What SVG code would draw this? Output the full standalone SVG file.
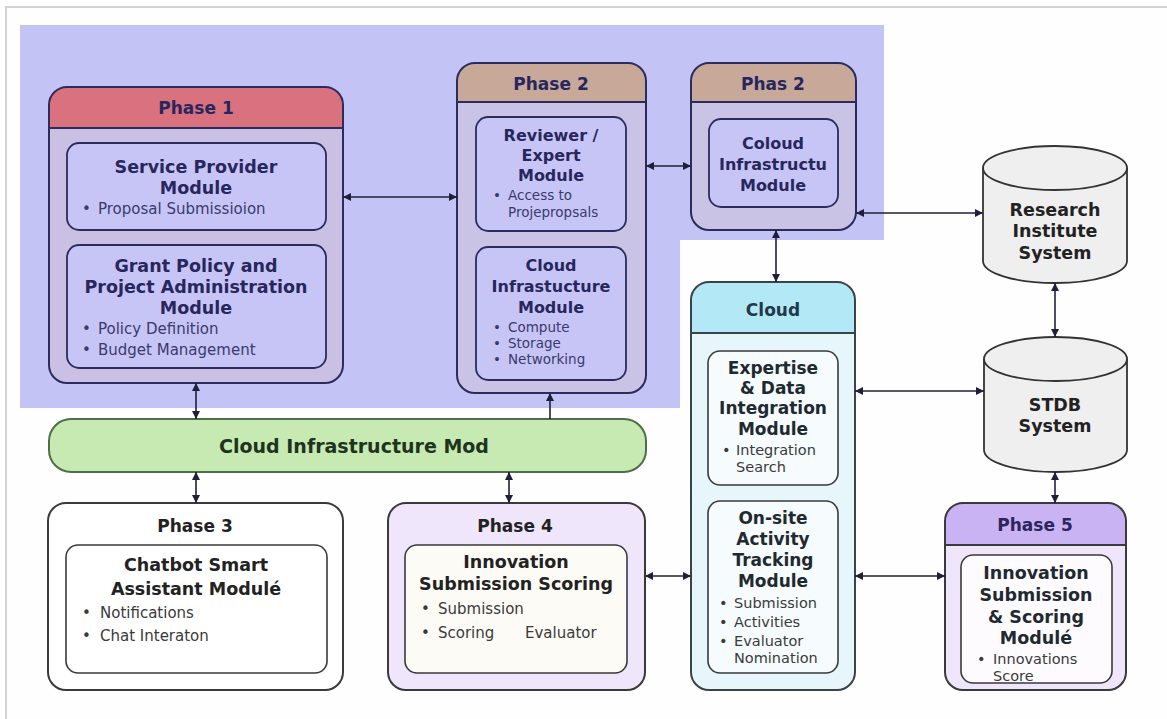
<svg xmlns="http://www.w3.org/2000/svg" width="1167" height="719" viewBox="0 0 1167 719">
<defs>
<marker id="ah" viewBox="0 0 10 10" refX="10" refY="5" markerWidth="8" markerHeight="8" markerUnits="userSpaceOnUse" orient="auto-start-reverse">
<path d="M0,0 L10,5 L0,10 z" fill="#1f1f3a"/>
</marker>
<style>
text{font-family:"DejaVu Sans","Open Sans",sans-serif;}
.hd{font-size:17px;font-weight:700;text-anchor:middle;}
.t1{font-size:17.5px;font-weight:700;text-anchor:middle;fill:#27275e;}
.t2{font-size:16px;font-weight:700;text-anchor:middle;fill:#27275e;}
.t3{font-size:17px;font-weight:700;text-anchor:middle;fill:#1f2a30;}
.t4{font-size:17.5px;font-weight:700;text-anchor:middle;fill:#222;}
.b{font-size:15px;fill:#3a3a6e;}
.b2{font-size:13.5px;fill:#3a3a6e;}
.bd{font-size:14.5px;fill:#3a3a3a;}
.nv{fill:#27275e;}
.dk{fill:#222;}
.ob{stroke:#2c2c5c;stroke-width:2;}
.ib{stroke:#2c2c5c;stroke-width:1.8;fill:#c7c5f5;}
.gb{stroke:#3a3a3a;stroke-width:2;}
.gi{stroke:#3a3a3a;stroke-width:1.6;}
.cyl{fill:#efefef;stroke:#333;stroke-width:1.8;}
.con path{fill:none;stroke:#1f1f3a;stroke-width:1.6;}
</style>
</defs>
<rect x="0" y="0" width="1167" height="719" fill="#fefefe"/>
<path d="M6,719 V7 H1167" fill="none" stroke="#d3d3d3" stroke-width="2"/>
<path d="M20,25 H884 V240 H680 V408 H20 Z" fill="#c4c3f6"/>

<g id="phase1">
<rect x="49" y="87" width="294" height="296" rx="18" fill="#c9c0e4"/>
<path d="M49,128 V105 A18,18 0 0 1 67,87 H325 A18,18 0 0 1 343,105 V128 Z" fill="#d9717e"/>
<line x1="49" y1="128" x2="343" y2="128" stroke="#2c2c5c" stroke-width="2"/>
<rect x="49" y="87" width="294" height="296" rx="18" fill="none" class="ob"/>
<text x="196" y="114" class="hd nv">Phase 1</text>
<rect x="67" y="143" width="259" height="87" rx="12" class="ib"/>
<text x="196" y="173" class="t1">Service Provider</text>
<text x="196" y="194" class="t1">Module</text>
<text x="82" y="214" class="b">•</text><text x="98" y="214" class="b">Proposal Submissioion</text>
<rect x="67" y="245" width="259" height="123" rx="12" class="ib"/>
<text x="196" y="272" class="t1">Grant Policy and</text>
<text x="196" y="293" class="t1">Project Administration</text>
<text x="196" y="314" class="t1">Module</text>
<text x="82" y="334" class="b">•</text><text x="98" y="334" class="b">Policy Definition</text>
<text x="82" y="355" class="b">•</text><text x="98" y="355" class="b">Budget Management</text>
</g>

<g id="phase2">
<rect x="457" y="63" width="189" height="330" rx="18" fill="#c9c3e6"/>
<path d="M457,102 V81 A18,18 0 0 1 475,63 H628 A18,18 0 0 1 646,81 V102 Z" fill="#c8a999"/>
<line x1="457" y1="102" x2="646" y2="102" stroke="#2c2c5c" stroke-width="2"/>
<rect x="457" y="63" width="189" height="330" rx="18" fill="none" class="ob"/>
<text x="551" y="90" class="hd nv">Phase 2</text>
<rect x="476" y="117" width="150" height="114" rx="12" class="ib"/>
<text x="551" y="141" class="t2">Reviewer /</text>
<text x="551" y="161" class="t2">Expert</text>
<text x="551" y="181" class="t2">Module</text>
<text x="493" y="200" class="b2">•</text><text x="508" y="200" class="b2">Access to</text>
<text x="508" y="217" class="b2">Projepropsals</text>
<rect x="476" y="247" width="150" height="133" rx="12" class="ib"/>
<text x="551" y="271" class="t2">Cloud</text>
<text x="551" y="292" class="t2">Infrastucture</text>
<text x="551" y="313" class="t2">Module</text>
<text x="493" y="332" class="b2">•</text><text x="508" y="332" class="b2">Compute</text>
<text x="493" y="348" class="b2">•</text><text x="508" y="348" class="b2">Storage</text>
<text x="493" y="364" class="b2">•</text><text x="508" y="364" class="b2">Networking</text>
</g>

<g id="phas2">
<rect x="691" y="63" width="165" height="167" rx="18" fill="#c9c3e6"/>
<path d="M691,102 V81 A18,18 0 0 1 709,63 H838 A18,18 0 0 1 856,81 V102 Z" fill="#c8a999"/>
<line x1="691" y1="102" x2="856" y2="102" stroke="#2c2c5c" stroke-width="2"/>
<rect x="691" y="63" width="165" height="167" rx="18" fill="none" class="ob"/>
<text x="773" y="90" class="hd nv">Phas 2</text>
<rect x="709" y="119" width="129" height="88" rx="12" class="ib"/>
<text x="773" y="149" class="t2">Coloud</text>
<text x="773" y="170" class="t2">Infrastructu</text>
<text x="773" y="191" class="t2">Module</text>
</g>

<g id="cloud-infra-bar">
<rect x="49" y="419" width="597" height="53" rx="22" fill="#c6eab2" stroke="#4e6e48" stroke-width="2"/>
<text x="354" y="453" style="font-size:19px;font-weight:700;text-anchor:middle;fill:#1e3320;">Cloud Infrastructure Mod</text>
</g>

<g id="cloud">
<rect x="691" y="282" width="164" height="408" rx="18" fill="#e7f6fb"/>
<path d="M691,333 V300 A18,18 0 0 1 709,282 H837 A18,18 0 0 1 855,300 V333 Z" fill="#b3e9f6"/>
<line x1="691" y1="333" x2="855" y2="333" stroke="#3a4348" stroke-width="2"/>
<rect x="691" y="282" width="164" height="408" rx="18" fill="none" stroke="#3a4348" stroke-width="2"/>
<text x="773" y="316" class="hd" style="fill:#1f3a48;">Cloud</text>
<rect x="708" y="351" width="130" height="134" rx="12" fill="#f6fbfd" class="gi"/>
<text x="773" y="374" class="t3">Expertise</text>
<text x="773" y="394" class="t3">&amp; Data</text>
<text x="773" y="414" class="t3">Integration</text>
<text x="773" y="435" class="t3">Module</text>
<text x="722" y="455" class="bd">•</text><text x="736" y="455" class="bd">Integration</text>
<text x="736" y="472" class="bd">Search</text>
<rect x="708" y="501" width="130" height="172" rx="12" fill="#f6fbfd" class="gi"/>
<text x="773" y="524" class="t3">On-site</text>
<text x="773" y="545" class="t3">Activity</text>
<text x="773" y="566" class="t3">Tracking</text>
<text x="773" y="587" class="t3">Module</text>
<text x="719" y="608" class="bd">•</text><text x="734" y="608" class="bd">Submission</text>
<text x="719" y="627" class="bd">•</text><text x="734" y="627" class="bd">Activities</text>
<text x="719" y="646" class="bd">•</text><text x="734" y="646" class="bd">Evaluator</text>
<text x="734" y="663" class="bd">Nomination</text>
</g>

<g id="research">
<path d="M983,168 A72,22 0 0 1 1127,168 V261 A72,22 0 0 1 983,261 Z" class="cyl"/>
<path d="M983,168 A72,22 0 0 0 1127,168" fill="none" stroke="#333" stroke-width="1.8"/>
<text x="1055" y="216" class="t4" style="font-size:17.5px;">Research</text>
<text x="1055" y="237" class="t4" style="font-size:17.5px;">Institute</text>
<text x="1055" y="259" class="t4" style="font-size:17.5px;">System</text>
</g>

<g id="stdb">
<path d="M984,359 A71.5,22 0 0 1 1127,359 V450 A71.5,22 0 0 1 984,450 Z" class="cyl"/>
<path d="M984,359 A71.5,22 0 0 0 1127,359" fill="none" stroke="#333" stroke-width="1.8"/>
<text x="1055" y="411" class="t4" style="font-size:17.5px;">STDB</text>
<text x="1055" y="432" class="t4" style="font-size:17.5px;">System</text>
</g>

<g id="phase3">
<rect x="48" y="503" width="295" height="187" rx="18" fill="#ffffff" class="gb"/>
<text x="195" y="532" class="hd dk">Phase 3</text>
<rect x="66" y="545" width="261" height="128" rx="12" fill="#ffffff" class="gi"/>
<text x="196" y="571" class="t4">Chatbot Smart</text>
<text x="196" y="595" class="t4">Assistant Modulé</text>
<text x="82" y="618" class="bd" style="font-size:15px;">•</text><text x="100" y="618" class="bd" style="font-size:15px;">Notifications</text>
<text x="82" y="641" class="bd" style="font-size:15px;">•</text><text x="100" y="641" class="bd" style="font-size:15px;">Chat Interaton</text>
</g>

<g id="phase4">
<rect x="388" y="503" width="257" height="187" rx="18" fill="#efe6fb" class="gb"/>
<text x="515" y="532" class="hd dk">Phase 4</text>
<rect x="405" y="545" width="222" height="128" rx="12" fill="#fdfbf6" class="gi"/>
<text x="516" y="568" class="t4">Innovation</text>
<text x="516" y="590" class="t4" style="font-size:17.5px;">Submission Scoring</text>
<text x="421" y="614" class="bd" style="font-size:15px;">•</text><text x="438" y="614" class="bd" style="font-size:15px;">Submission</text>
<text x="421" y="638" class="bd" style="font-size:15px;">•</text><text x="438" y="638" class="bd" style="font-size:15px;">Scoring</text><text x="525" y="638" class="bd" style="font-size:15px;">Evaluator</text>
</g>

<g id="phase5">
<rect x="945" y="503" width="181" height="187" rx="18" fill="#efe6fb"/>
<path d="M945,545 V521 A18,18 0 0 1 963,503 H1108 A18,18 0 0 1 1126,521 V545 Z" fill="#c9b3f3"/>
<line x1="945" y1="545" x2="1126" y2="545" stroke="#3a3a3a" stroke-width="2"/>
<rect x="945" y="503" width="181" height="187" rx="18" fill="none" class="gb"/>
<text x="1035" y="531" class="hd" style="fill:#2e2460;">Phase 5</text>
<rect x="961" y="555" width="151" height="128" rx="12" fill="#fdfbfe" class="gi"/>
<text x="1036" y="579" class="t3" style="font-size:17.5px;">Innovation</text>
<text x="1036" y="601" class="t3" style="font-size:17.5px;">Submission</text>
<text x="1036" y="623" class="t3" style="font-size:17.5px;">&amp; Scoring</text>
<text x="1036" y="644" class="t3" style="font-size:17.5px;">Modulé</text>
<text x="977" y="664" class="bd">•</text><text x="993" y="664" class="bd">Innovations</text>
<text x="993" y="681" class="bd">Score</text>
</g>

<g id="connectors" class="con">
<path d="M343,197 H457" marker-start="url(#ah)" marker-end="url(#ah)"/>
<path d="M646,166 H691" marker-start="url(#ah)" marker-end="url(#ah)"/>
<path d="M776,230 V282" marker-start="url(#ah)" marker-end="url(#ah)"/>
<path d="M856,213 H983" marker-start="url(#ah)" marker-end="url(#ah)"/>
<path d="M1055,283 V337" marker-start="url(#ah)" marker-end="url(#ah)"/>
<path d="M855,391 H984" marker-start="url(#ah)" marker-end="url(#ah)"/>
<path d="M1055,472 V503" marker-start="url(#ah)" marker-end="url(#ah)"/>
<path d="M855,576 H945" marker-start="url(#ah)" marker-end="url(#ah)"/>
<path d="M645,576 H691" marker-start="url(#ah)" marker-end="url(#ah)"/>
<path d="M196,383 V419" marker-start="url(#ah)" marker-end="url(#ah)"/>
<path d="M550,419 V393" marker-end="url(#ah)"/>
<path d="M196,472 V503" marker-start="url(#ah)" marker-end="url(#ah)"/>
<path d="M509,472 V503" marker-start="url(#ah)" marker-end="url(#ah)"/>
</g>
</svg>
